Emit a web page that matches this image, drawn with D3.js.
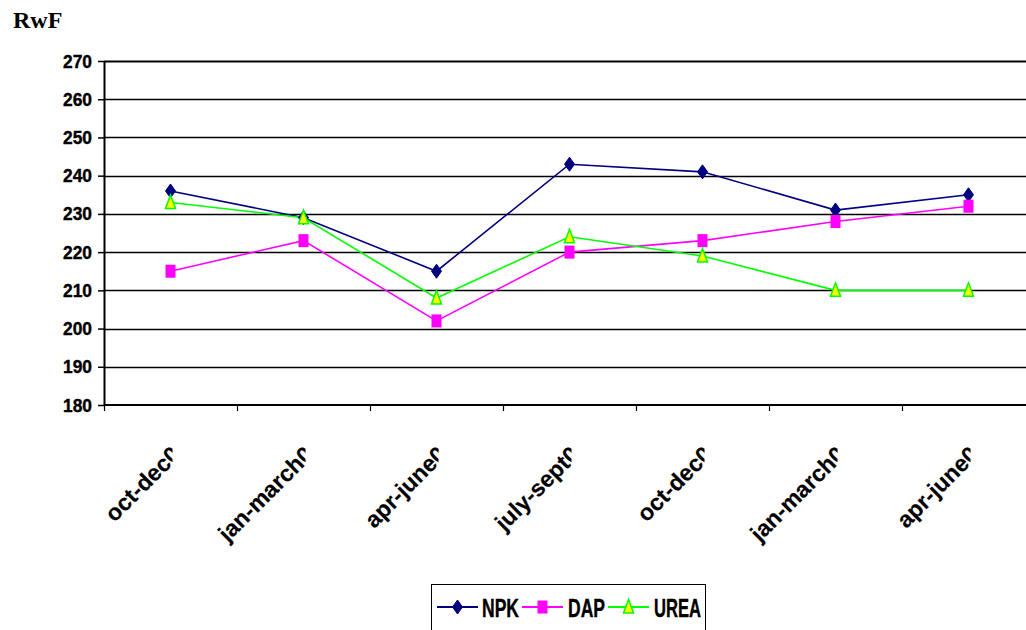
<!DOCTYPE html>
<html>
<head>
<meta charset="utf-8">
<script src="https://cdn.jsdelivr.net/npm/d3@7"></script>
<style>
  html, body { margin: 0; padding: 0; background: #fff; }
  svg { display: block; }
</style>
</head>
<body>
<svg id="chart" width="1026" height="630"></svg>
<script>
// Quarterly fertilizer prices (RwF)
const categories = ["oct-dec0", "jan-march0", "apr-june0", "july-sept0", "oct-dec0", "jan-march0", "apr-june0"];
const npk  = [236, 229, 215, 243, 241, 231, 235];
const dap  = [215, 223, 202, 220, 223, 228, 232];
const urea = [233, 229, 208, 224, 219, 210, 210];
const yTicks = [180, 190, 200, 210, 220, 230, 240, 250, 260, 270];
const seriesNames = ["NPK", "DAP", "UREA"];

const svg = d3.select("#chart");
const plotLeft = 104, plotTop = 61, plotBottom = 405, bandW = 133;
const plotRight = plotLeft + bandW * categories.length;

const x = d3.scaleBand().domain(d3.range(categories.length)).range([plotLeft, plotRight]).padding(0);
const y = d3.scaleLinear().domain([180, 270]).range([plotBottom, plotTop]);
const cx = i => x(i) + x.bandwidth() / 2;

// unit title
svg.append("text").attr("x", 13).attr("y", 28)
  .attr("font-family", "Liberation Serif, Times New Roman, serif")
  .attr("font-weight", "bold").attr("font-size", 24).text("RwF");

// horizontal gridlines
svg.append("g").selectAll("line").data(yTicks.filter(v => v > 180)).join("line")
  .attr("x1", plotLeft).attr("x2", plotRight)
  .attr("y1", d => Math.round(y(d)) + 0.5).attr("y2", d => Math.round(y(d)) + 0.5)
  .attr("stroke", "#000").attr("stroke-width", d => d === 270 ? 2 : 1.6);

// y axis
const yAxis = d3.axisLeft(y).tickValues(yTicks).tickSize(6).tickSizeOuter(0).tickPadding(6);
const gy = svg.append("g").attr("transform", `translate(${plotLeft},0)`).call(yAxis);
gy.select(".domain").attr("stroke", "#000").attr("stroke-width", 2);
gy.selectAll(".tick line").attr("stroke", "#000").attr("stroke-width", 1.5);
gy.selectAll(".tick text")
  .attr("font-family", "Liberation Sans, Arial, sans-serif")
  .attr("font-weight", "bold").attr("font-size", 19).attr("fill", "#000")
  .attr("stroke", "#000").attr("stroke-width", 0.4)
  .attr("textLength", 29).attr("lengthAdjust", "spacingAndGlyphs");

// x axis with ticks at band boundaries
const gx = svg.append("g").attr("transform", `translate(0,${plotBottom})`);
gx.append("line").attr("x1", plotLeft).attr("x2", plotRight).attr("y1", 0).attr("y2", 0)
  .attr("stroke", "#000").attr("stroke-width", 2.2);
gx.selectAll("line.tk").data(d3.range(categories.length + 1)).join("line")
  .attr("class", "tk")
  .attr("x1", i => plotLeft + i * x.bandwidth() + 0.5).attr("x2", i => plotLeft + i * x.bandwidth() + 0.5)
  .attr("y1", 0).attr("y2", 6).attr("stroke", "#000").attr("stroke-width", 1.2);

// rotated category labels, truncated just right of the category centre
const defs = svg.append("defs");
categories.forEach((c, i) => {
  defs.append("clipPath").attr("id", "clipLbl" + i)
    .append("rect").attr("x", cx(i) - 200).attr("y", 400).attr("width", 202).attr("height", 230);
});
const lblG = svg.append("g").selectAll("g").data(categories).join("g")
  .attr("clip-path", (d, i) => `url(#clipLbl${i})`);
lblG.append("text")
  .attr("transform", (d, i) => `translate(${cx(i) + 11},${456}) rotate(-45)`)
  .attr("text-anchor", "end")
  .attr("font-family", "Liberation Sans, Arial, sans-serif")
  .attr("font-weight", "bold").attr("font-size", 23)
  .attr("stroke", "#000").attr("stroke-width", 0.2)
  .text(d => d);

// series
const series = [
  { name: "NPK",  values: npk,  color: "#000080", marker: "diamond" },
  { name: "DAP",  values: dap,  color: "#FF00FF", marker: "square" },
  { name: "UREA", values: urea, color: "#00FF00", marker: "triangle" }
];
const line = d3.line().x((d, i) => cx(i)).y(d => y(d));

function drawMarker(g, type) {
  if (type === "diamond") {
    g.append("path").attr("d", "M0,-7L5,0L0,7L-5,0Z").attr("fill", "#000080").attr("stroke", "#000080");
  } else if (type === "square") {
    g.append("rect").attr("x", -5).attr("y", -6.5).attr("width", 10).attr("height", 13).attr("fill", "#FF00FF");
  } else {
    g.append("path").attr("d", "M0,-7.5L5,6L-5,6Z").attr("fill", "#FFFF00")
      .attr("stroke", "#00FF00").attr("stroke-width", 1.5).attr("stroke-linejoin", "miter");
  }
}

series.forEach(s => {
  svg.append("path").datum(s.values).attr("d", line)
    .attr("fill", "none").attr("stroke", s.color).attr("stroke-width", 1.6);
});
series.forEach(s => {
  s.values.forEach((v, i) => {
    const g = svg.append("g").attr("transform", `translate(${cx(i)},${y(v)})`);
    drawMarker(g, s.marker);
  });
});

// legend
const lg = svg.append("g");
lg.append("rect").attr("x", 431.5).attr("y", 584.5).attr("width", 274).attr("height", 60)
  .attr("fill", "#fff").attr("stroke", "#000").attr("stroke-width", 1);
const legendItems = [
  { x1: 437, x2: 478, tx: 482, tw: 37 },
  { x1: 522, x2: 563, tx: 568, tw: 37 },
  { x1: 608, x2: 649, tx: 654, tw: 47 }
];
series.forEach((s, k) => {
  const it = legendItems[k];
  const ly = 607;
  lg.append("line").attr("x1", it.x1).attr("x2", it.x2).attr("y1", ly).attr("y2", ly)
    .attr("stroke", s.color).attr("stroke-width", 2);
  const g = lg.append("g").attr("transform", `translate(${(it.x1 + it.x2) / 2},${ly})`);
  drawMarker(g, s.marker);
  lg.append("text").attr("x", it.tx).attr("y", ly + 9.5)
    .attr("font-family", "Liberation Sans, Arial, sans-serif")
    .attr("font-weight", "bold").attr("font-size", 25)
    .attr("stroke", "#000").attr("stroke-width", 0.4)
    .attr("textLength", it.tw).attr("lengthAdjust", "spacingAndGlyphs")
    .text(seriesNames[k]);
});
</script>
</body>
</html>
